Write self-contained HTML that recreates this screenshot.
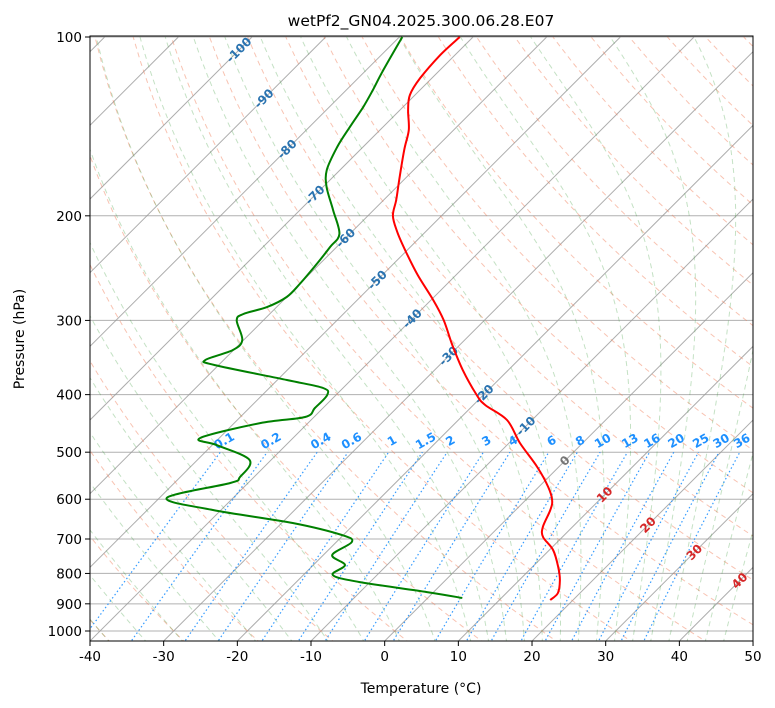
<!DOCTYPE html>
<html><head><meta charset="utf-8"><style>
body{margin:0;background:#fff;}
svg{display:block;font-family:"DejaVu Sans","Liberation Sans",sans-serif;}
</style></head><body>
<svg id="c" width="775" height="708" viewBox="0 0 775 708">
<defs><clipPath id="clip"><rect x="90" y="36" width="663" height="605"/></clipPath></defs>
<rect x="0" y="0" width="775" height="708" fill="#fff"/>
<text x="421" y="26" font-size="15.5" text-anchor="middle">wetPf2_GN04.2025.300.06.28.E07</text>
<g id="plot" clip-path="url(#clip)"></g>
<rect x="90" y="36" width="663" height="605" fill="none" stroke="#000" stroke-width="1"/>
<g id="axes"></g>
<text x="421" y="693" font-size="14" text-anchor="middle">Temperature (°C)</text>
<text x="24" y="339" font-size="14" text-anchor="middle" transform="rotate(-90 24 339)">Pressure (hPa)</text>
</svg>
<script>
const presT = [100,107.2,117.2,125.2,132.7,143.4,155,174.1,188.1,200,213,228.4,251.6,277.2,300,330,363.5,400.6,416.4,441.4,482.6,529.7,572.3,602,625.6,668.5,694.9,730.4,780.2,820.7,863,886.8];
const tempT = [-71.8,-72.0,-71.6,-70.7,-68.9,-66.1,-64.0,-60.6,-58.3,-56.6,-53.8,-50.3,-45.2,-39.7,-35.5,-31.0,-26.2,-20.9,-18.4,-13.4,-8.5,-2.9,1.3,3.6,4.7,6.0,7.4,10.5,13.5,15.5,17.0,16.9];
const presD = [100,113.6,122.8,131.2,141.8,153.2,167.4,178.9,195.6,214.6,225.7,241.1,260.5,274,284.9,292.7,300,323.6,336.5,349.9,356.7,378,389.9,400.6,421.3,436.3,446.6,473.3,486.4,515.4,550.5,563.5,597.1,625.6,658,689.3,708.2,744.9,774.3,805,827.2,860,879.9];
const dewD = [-79.6,-77.7,-76.4,-75.4,-74.5,-73.5,-71.8,-69.5,-65.5,-61.4,-60.9,-60.4,-60.0,-60.0,-61.3,-63.6,-63.6,-60.2,-60.1,-62.5,-60.5,-48.7,-42.7,-41.2,-41.1,-41.2,-46.5,-52.6,-49.4,-42.9,-41.9,-42.4,-49.0,-41.1,-28.5,-20.2,-17.9,-18.8,-15.7,-16.0,-11.4,-0.9,4.7];
const xTicks = [-40,-30,-20,-10,0,10,20,30,40,50];
const yTicks = [100,200,300,400,500,600,700,800,900,1000];
const mixRatios = [0.1,0.2,0.4,0.6,1,1.5,2,3,4,6,8,10,13,16,20,25,30,36];
const mixLabels = ["0.1","0.2","0.4","0.6","1","1.5","2","3","4","6","8","10","13","16","20","25","30","36"];
const isoLabelT = [-100,-90,-80,-70,-60,-50,-40,-30,-20,-10,0,10,20,30,40];
const isoLabelP = [105.2,127,154.5,184.5,218,256.5,298,344.5,399.5,452,517,589.5,663,737,823];

const NS='http://www.w3.org/2000/svg';
const X0=90, X1=753, YB=641, YDEC=594;
function yP(p){return 37+YDEC*Math.log10(p/100);}
function xT(t,p){return 384.7+7.367*t+(YB-yP(p));}
const plot=document.getElementById('plot'), axes=document.getElementById('axes');
function mk(tag,attrs,parent){const e=document.createElementNS(NS,tag);for(const k in attrs)e.setAttribute(k,attrs[k]);parent.appendChild(e);return e;}
function pathFrom(pts){return pts.map((q,i)=>(i?'L':'M')+q[0].toFixed(1)+' '+q[1].toFixed(1)).join(' ');}
function smoothPath(pts){let d='M'+pts[0][0].toFixed(1)+' '+pts[0][1].toFixed(1);
for(let i=0;i<pts.length-1;i++){const p0=pts[i-1]||pts[i],p1=pts[i],p2=pts[i+1],p3=pts[i+2]||p2;
const c1=[p1[0]+(p2[0]-p0[0])/6,p1[1]+(p2[1]-p0[1])/6],c2=[p2[0]-(p3[0]-p1[0])/6,p2[1]-(p3[1]-p1[1])/6];
d+=' C'+c1[0].toFixed(1)+' '+c1[1].toFixed(1)+' '+c2[0].toFixed(1)+' '+c2[1].toFixed(1)+' '+p2[0].toFixed(1)+' '+p2[1].toFixed(1);}
return d;}

yTicks.forEach(p=>{const l=mk('line',{x1:X0,x2:X1,y1:yP(p),y2:yP(p),stroke:'#b0b0b0','stroke-width':1},plot);

});
for(let t=-160;t<=50;t+=10){const l=mk('line',{x1:xT(t,1050),y1:yP(1050),x2:xT(t,100),y2:yP(100),stroke:'#999','stroke-width':1,opacity:0.8},plot);

}
for(let th=-40;th<=250;th+=10){const pts=[];for(let p=1050;p>=100;p-=10){const T=(th+273.15)*Math.pow(p/1000,0.2857)-273.15;pts.push([xT(T,p),yP(p)]);}
const e=mk('path',{d:pathFrom(pts),fill:'none',stroke:'#f07a55','stroke-width':1,'stroke-dasharray':'5,4',opacity:0.45},plot);

}
function es(tc){return 6.112*Math.exp(17.67*tc/(tc+243.5));}
function dTdp(T,p){const tc=T-273.15;const e=es(tc);const rs=0.622*e/(p-e);return (287*T+2.501e6*rs)/(p*(1005+2.501e6*2.501e6*rs*0.622/(287*T*T)));}
const moistT0=[];for(let t=-50;t<=10;t+=5)moistT0.push(t);for(let t=12.5;t<=45;t+=2.5)moistT0.push(t);
moistT0.forEach(t0=>{const up=[];let T=t0+273.15;for(let p=1000;p>=100;p-=2){up.push([xT(T-273.15,p),yP(p)]);T-=dTdp(T,p)*2;}
T=t0+273.15;const dn=[];for(let p=1000;p<=1050;p+=2){dn.unshift([xT(T-273.15,p),yP(p)]);T+=dTdp(T,p)*2;}
const e=mk('path',{d:pathFrom(dn.concat(up)),fill:'none',stroke:'#3a9a3a','stroke-width':1,'stroke-dasharray':'5,4',opacity:0.3},plot);

});
function tdFromW(w,p){const e=p*w/(622+w);const a=Math.log(e/6.112);return 243.5*a/(17.67-a);}
mixRatios.forEach((w,i)=>{const pts=[];for(let p=1050;p>=500;p-=10)pts.push([xT(tdFromW(w,p),p),yP(p)]);
const e=mk('path',{d:pathFrom(pts),fill:'none',stroke:'#1e90ff','stroke-width':1.2,'stroke-dasharray':'1.5,2.5',opacity:0.9},plot);


const lx=xT(tdFromW(w,485),485), ly=yP(485);
const tx=mk('text',{x:lx,y:ly,'font-size':12,'font-weight':'bold',fill:'#1e90ff','text-anchor':'middle',transform:'rotate(-30 '+lx+' '+ly+')'},plot);
tx.textContent=mixLabels[i];

});
isoLabelT.forEach((t,i)=>{const p=isoLabelP[i];const lx=xT(t,p),ly=yP(p)+4;
const col=t<0?'#2a73b0':(t===0?'#777':'#d62728');
const tx=mk('text',{x:lx,y:ly,'font-size':12,'font-weight':'bold',fill:col,'text-anchor':'middle',transform:'rotate(-45 '+lx+' '+(ly-4)+')'},plot);
tx.textContent=String(t);

});
const tp=mk('path',{d:smoothPath(presT.map((p,i)=>[xT(tempT[i],p),yP(p)])),fill:'none',stroke:'#ff0000','stroke-width':2,'stroke-linejoin':'round'},plot);


const dp=mk('path',{d:smoothPath(presD.map((p,i)=>[xT(dewD[i],p),yP(p)])),fill:'none',stroke:'#008000','stroke-width':2,'stroke-linejoin':'round'},plot);


xTicks.forEach(t=>{const x=X0+(t+40)*7.367;mk('line',{x1:x,x2:x,y1:YB,y2:YB+5,stroke:'#000'},axes);
const tx=mk('text',{x:x,y:YB+20,'font-size':13.5,'text-anchor':'middle'},axes);tx.textContent=String(t);

});
yTicks.forEach(p=>{const y=yP(p);mk('line',{x1:X0-5,x2:X0,y1:y,y2:y,stroke:'#000'},axes);
const tx=mk('text',{x:X0-8,y:y+5,'font-size':13.5,'text-anchor':'end'},axes);tx.textContent=String(p);

});
</script>
</body></html>
